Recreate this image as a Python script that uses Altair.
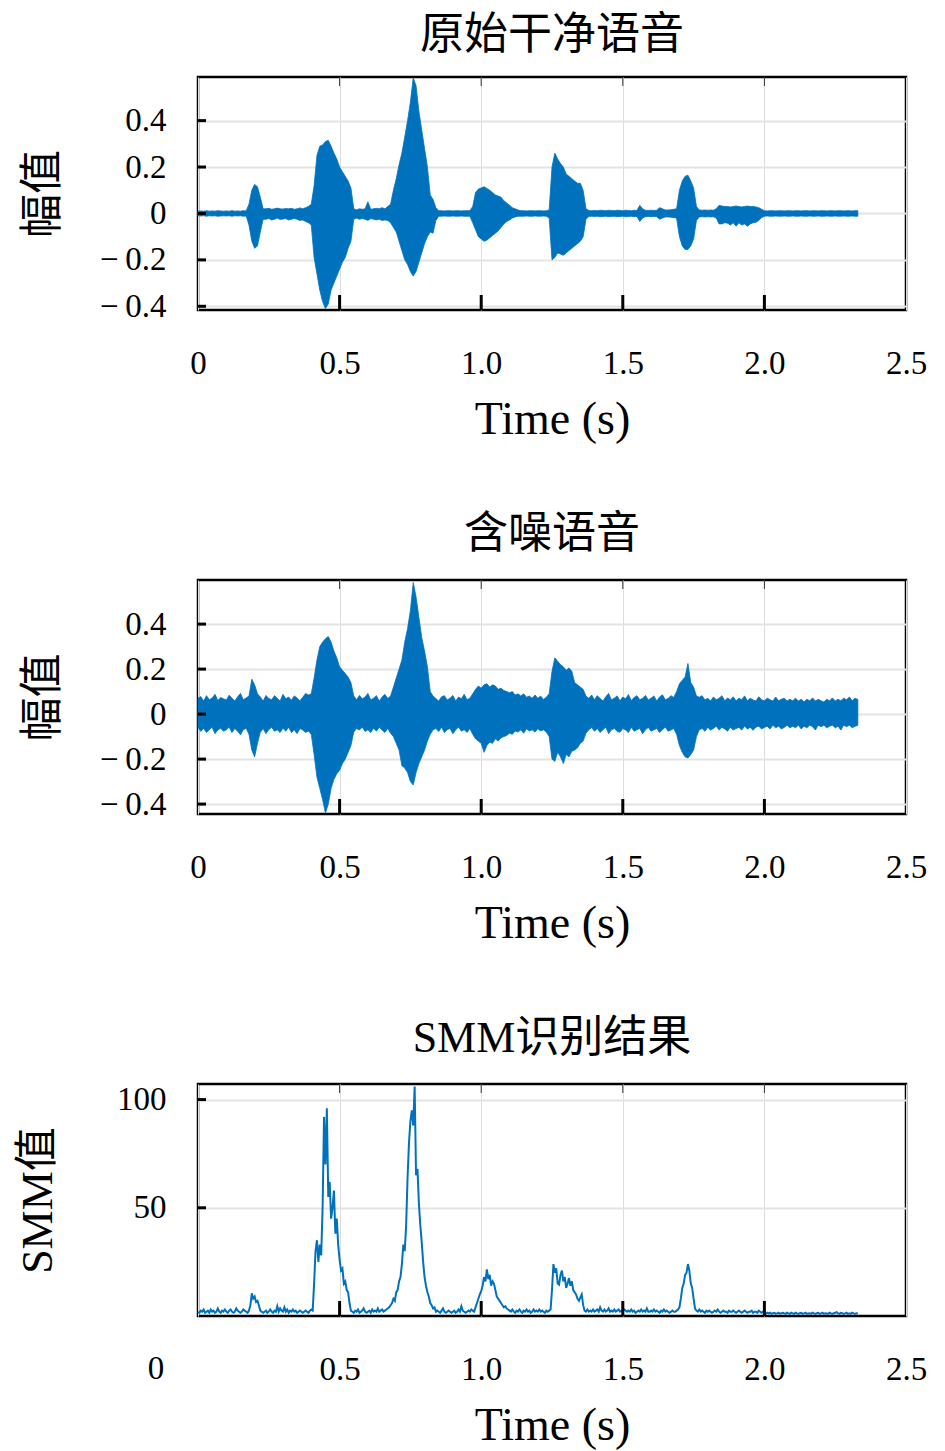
import altair as alt
import pandas as pd

BLUE = "#0072BD"
SERIF = "Liberation Serif"
MIXED = "Liberation Serif, Noto Sans CJK SC"

# ---------------- data ----------------
# Envelope (max / min per 0.01 s) of the clean speech waveform
clean_upper = [
    0.010, 0.011, 0.010, 0.012, 0.010, 0.011, 0.010, 0.012, 0.011, 0.010,
    0.011, 0.010, 0.012, 0.010, 0.011, 0.010, 0.012, 0.011, 0.040, 0.100,
    0.125, 0.115, 0.070, 0.020, 0.020, 0.022, 0.018, 0.020, 0.023, 0.020,
    0.019, 0.021, 0.020, 0.022, 0.018, 0.020, 0.024, 0.020, 0.025, 0.030,
    0.040, 0.120, 0.250, 0.290, 0.295, 0.310, 0.315, 0.290, 0.260, 0.235,
    0.200, 0.180, 0.160, 0.140, 0.110, 0.020, 0.015, 0.020, 0.018, 0.020,
    0.050, 0.018, 0.020, 0.022, 0.020, 0.025, 0.020, 0.030, 0.040, 0.100,
    0.150, 0.210, 0.260, 0.330, 0.400, 0.480, 0.585, 0.550, 0.440, 0.360,
    0.280, 0.200, 0.080, 0.060, 0.025, 0.012, 0.012, 0.011, 0.012, 0.012,
    0.011, 0.012, 0.012, 0.011, 0.012, 0.012, 0.012, 0.030, 0.090, 0.105,
    0.110, 0.115, 0.108, 0.100, 0.090, 0.080, 0.075, 0.070, 0.055, 0.045,
    0.035, 0.025, 0.020, 0.015, 0.012, 0.012, 0.011, 0.012, 0.012, 0.011,
    0.012, 0.012, 0.011, 0.012, 0.015, 0.200, 0.260, 0.235, 0.215, 0.200,
    0.170, 0.160, 0.150, 0.140, 0.130, 0.130, 0.100, 0.020, 0.013, 0.012,
    0.013, 0.012, 0.014, 0.013, 0.012, 0.014, 0.013, 0.012, 0.014, 0.013,
    0.012, 0.014, 0.013, 0.012, 0.014, 0.013, 0.035, 0.020, 0.014, 0.013,
    0.014, 0.013, 0.014, 0.025, 0.020, 0.015, 0.015, 0.016, 0.018, 0.020,
    0.100, 0.140, 0.160, 0.165, 0.140, 0.110, 0.030, 0.015, 0.014, 0.015,
    0.014, 0.015, 0.014, 0.020, 0.035, 0.032, 0.030, 0.030, 0.028, 0.030,
    0.032, 0.030, 0.028, 0.030, 0.032, 0.030, 0.030, 0.028, 0.025, 0.018,
    0.012, 0.011, 0.012, 0.012, 0.011, 0.012, 0.012, 0.011, 0.012, 0.012,
    0.011, 0.012, 0.012, 0.011, 0.012, 0.012, 0.011, 0.012, 0.012, 0.011,
    0.012, 0.012, 0.011, 0.012, 0.012, 0.011, 0.012, 0.012, 0.011, 0.012,
    0.012, 0.011, 0.012, 0.012,
]
clean_lower = [
    -0.010, -0.011, -0.010, -0.012, -0.010, -0.011, -0.010, -0.012, -0.011, -0.010,
    -0.011, -0.010, -0.012, -0.010, -0.011, -0.010, -0.012, -0.011, -0.050, -0.120,
    -0.150, -0.140, -0.080, -0.025, -0.025, -0.022, -0.028, -0.025, -0.020, -0.026,
    -0.024, -0.022, -0.028, -0.025, -0.022, -0.025, -0.030, -0.028, -0.035, -0.040,
    -0.050, -0.190, -0.260, -0.330, -0.380, -0.410, -0.390, -0.330, -0.300, -0.270,
    -0.240, -0.210, -0.190, -0.150, -0.120, -0.025, -0.020, -0.025, -0.022, -0.025,
    -0.030, -0.022, -0.025, -0.028, -0.025, -0.030, -0.028, -0.030, -0.040, -0.060,
    -0.080, -0.120, -0.160, -0.200, -0.220, -0.250, -0.270, -0.250, -0.210, -0.170,
    -0.130, -0.100, -0.080, -0.085, -0.030, -0.012, -0.012, -0.011, -0.012, -0.012,
    -0.011, -0.012, -0.012, -0.011, -0.012, -0.012, -0.012, -0.040, -0.070, -0.100,
    -0.110, -0.120, -0.115, -0.105, -0.095, -0.085, -0.075, -0.060, -0.045, -0.035,
    -0.028, -0.020, -0.015, -0.012, -0.012, -0.012, -0.011, -0.012, -0.012, -0.011,
    -0.012, -0.012, -0.011, -0.012, -0.020, -0.200, -0.190, -0.170, -0.175, -0.180,
    -0.170, -0.160, -0.150, -0.140, -0.130, -0.120, -0.100, -0.025, -0.013, -0.012,
    -0.013, -0.012, -0.014, -0.013, -0.012, -0.014, -0.013, -0.012, -0.014, -0.013,
    -0.012, -0.014, -0.013, -0.012, -0.014, -0.013, -0.035, -0.020, -0.014, -0.013,
    -0.014, -0.013, -0.014, -0.025, -0.020, -0.015, -0.015, -0.016, -0.018, -0.020,
    -0.100, -0.140, -0.155, -0.155, -0.140, -0.110, -0.030, -0.015, -0.014, -0.015,
    -0.014, -0.015, -0.014, -0.020, -0.045, -0.045, -0.040, -0.042, -0.050, -0.040,
    -0.055, -0.040, -0.050, -0.045, -0.055, -0.045, -0.040, -0.038, -0.030, -0.018,
    -0.012, -0.011, -0.012, -0.012, -0.011, -0.012, -0.012, -0.011, -0.012, -0.012,
    -0.011, -0.012, -0.012, -0.011, -0.012, -0.012, -0.011, -0.012, -0.012, -0.011,
    -0.012, -0.012, -0.011, -0.012, -0.012, -0.011, -0.012, -0.012, -0.011, -0.012,
    -0.012, -0.011, -0.012, -0.012,
]

# Envelope of the noisy speech waveform
noisy_upper = [
    0.070, 0.078, 0.058, 0.082, 0.064, 0.072, 0.088, 0.060, 0.074, 0.068,
    0.063, 0.084, 0.071, 0.058, 0.077, 0.092, 0.064, 0.072, 0.080, 0.155,
    0.130, 0.090, 0.076, 0.058, 0.083, 0.069, 0.064, 0.082, 0.070, 0.058,
    0.088, 0.068, 0.076, 0.062, 0.081, 0.072, 0.059, 0.075, 0.092, 0.085,
    0.090, 0.160, 0.240, 0.300, 0.320, 0.335, 0.345, 0.320, 0.280, 0.250,
    0.210, 0.195, 0.180, 0.165, 0.140, 0.080, 0.064, 0.083, 0.068, 0.076,
    0.092, 0.063, 0.071, 0.082, 0.058, 0.076, 0.088, 0.069, 0.080, 0.120,
    0.160, 0.200, 0.240, 0.320, 0.380, 0.460, 0.585, 0.520, 0.430, 0.340,
    0.280, 0.210, 0.100, 0.080, 0.069, 0.058, 0.077, 0.082, 0.063, 0.071,
    0.083, 0.058, 0.076, 0.068, 0.088, 0.064, 0.071, 0.090, 0.110, 0.125,
    0.115, 0.130, 0.135, 0.120, 0.130, 0.125, 0.110, 0.115, 0.105, 0.100,
    0.095, 0.100, 0.085, 0.090, 0.080, 0.090, 0.075, 0.080, 0.070, 0.085,
    0.070, 0.080, 0.065, 0.075, 0.090, 0.190, 0.250, 0.235, 0.220, 0.210,
    0.195, 0.205, 0.190, 0.140, 0.130, 0.120, 0.110, 0.080, 0.070, 0.085,
    0.064, 0.082, 0.069, 0.058, 0.077, 0.092, 0.063, 0.071, 0.081, 0.059,
    0.076, 0.068, 0.087, 0.060, 0.074, 0.082, 0.064, 0.070, 0.083, 0.063,
    0.071, 0.081, 0.058, 0.076, 0.086, 0.064, 0.069, 0.082, 0.074, 0.100,
    0.135, 0.150, 0.165, 0.225, 0.140, 0.120, 0.080, 0.075, 0.082, 0.063,
    0.071, 0.058, 0.076, 0.064, 0.070, 0.082, 0.059, 0.072, 0.063, 0.077,
    0.058, 0.071, 0.064, 0.081, 0.059, 0.070, 0.063, 0.058, 0.077, 0.064,
    0.059, 0.071, 0.064, 0.058, 0.076, 0.059, 0.066, 0.071, 0.058, 0.066,
    0.059, 0.071, 0.058, 0.066, 0.054, 0.066, 0.059, 0.072, 0.058, 0.066,
    0.059, 0.054, 0.066, 0.059, 0.072, 0.058, 0.066, 0.059, 0.071, 0.064,
    0.076, 0.059, 0.071, 0.065,
]
noisy_lower = [
    -0.060, -0.077, -0.064, -0.082, -0.069, -0.058, -0.087, -0.071, -0.063, -0.076,
    -0.070, -0.058, -0.082, -0.064, -0.076, -0.092, -0.069, -0.063, -0.090, -0.160,
    -0.190, -0.130, -0.081, -0.064, -0.087, -0.069, -0.058, -0.076, -0.070, -0.082,
    -0.063, -0.076, -0.058, -0.082, -0.070, -0.087, -0.064, -0.071, -0.082, -0.075,
    -0.090, -0.180, -0.280, -0.330, -0.380, -0.440, -0.400, -0.330, -0.290, -0.265,
    -0.250, -0.220, -0.200, -0.170, -0.140, -0.080, -0.064, -0.071, -0.058, -0.077,
    -0.070, -0.082, -0.063, -0.076, -0.058, -0.071, -0.082, -0.064, -0.085, -0.100,
    -0.130, -0.160, -0.230, -0.240, -0.260, -0.300, -0.315, -0.260, -0.220, -0.190,
    -0.160, -0.120, -0.090, -0.070, -0.064, -0.077, -0.058, -0.082, -0.069, -0.064,
    -0.087, -0.070, -0.058, -0.076, -0.069, -0.082, -0.064, -0.090, -0.110, -0.120,
    -0.130, -0.170, -0.140, -0.125, -0.130, -0.110, -0.120, -0.105, -0.100, -0.095,
    -0.085, -0.090, -0.075, -0.080, -0.070, -0.085, -0.065, -0.075, -0.070, -0.080,
    -0.065, -0.075, -0.070, -0.080, -0.100, -0.200, -0.210, -0.170, -0.190, -0.220,
    -0.180, -0.190, -0.165, -0.160, -0.150, -0.130, -0.120, -0.085, -0.070, -0.060,
    -0.076, -0.064, -0.082, -0.069, -0.058, -0.087, -0.070, -0.064, -0.076, -0.081,
    -0.064, -0.071, -0.082, -0.058, -0.076, -0.069, -0.064, -0.087, -0.070, -0.059,
    -0.076, -0.070, -0.064, -0.082, -0.069, -0.058, -0.076, -0.071, -0.064, -0.090,
    -0.140, -0.170, -0.190, -0.195, -0.180, -0.160, -0.100, -0.070, -0.064, -0.076,
    -0.059, -0.071, -0.064, -0.054, -0.071, -0.059, -0.066, -0.076, -0.058, -0.071,
    -0.064, -0.059, -0.071, -0.054, -0.066, -0.059, -0.072, -0.058, -0.054, -0.066,
    -0.059, -0.054, -0.066, -0.049, -0.061, -0.054, -0.066, -0.059, -0.049, -0.061,
    -0.054, -0.061, -0.049, -0.066, -0.054, -0.061, -0.049, -0.056, -0.071, -0.049,
    -0.056, -0.049, -0.061, -0.054, -0.049, -0.061, -0.054, -0.071, -0.049, -0.056,
    -0.049, -0.061, -0.054, -0.050,
]

# SMM value, one reading every 0.005 s
smm_values = [
    2, 1.5, 2.5, 2, 3, 1.5, 2, 2.5, 1.5, 3, 2, 2.5, 1.5, 2, 3.5, 2, 1.5, 2.5, 2, 3,
    2, 1.5, 2.5, 3, 2, 1.5, 2, 3.5, 2.5, 2, 1.5, 2, 3, 2.5, 2, 1.5, 2.5, 5, 10.5, 8,
    9, 6.5, 7, 5, 2.5, 2, 1.5, 2, 2.5, 1.5, 2, 3, 2, 1.5, 2.5, 2, 4.5, 2, 3.5, 2.5,
    2, 4, 2, 3, 1.5, 2.5, 2, 3, 2, 2.5, 1.5, 2, 2.5, 2, 1.5, 2, 2.5, 2, 1.5, 2.5,
    3, 2.5, 15, 30, 35, 25, 33, 28, 50, 92, 70, 96, 55, 62, 45, 50, 58, 38, 45, 33,
    26, 21, 22, 15, 16, 12, 11, 6, 2.5, 2, 1.5, 2.5, 2, 3, 1.5, 2, 2.5, 3.5, 2, 1.5,
    2, 2.5, 1.5, 3, 2, 2.5, 2, 3.5, 2, 2.5, 3, 2, 2.5, 3, 3.5, 4, 5, 6, 8, 7,
    11, 12, 16, 18, 24, 33, 30, 42, 64, 80, 90, 95, 88, 106, 65, 68, 52, 42, 34, 25,
    18, 14, 11, 9, 6, 5, 3.5, 4, 2, 2.5, 2, 1.5, 2.5, 3.5, 2, 1.5, 2, 2.5, 2, 1.5,
    2, 2.5, 1.5, 2, 3, 2, 4.5, 2.5, 2, 1.5, 2, 2.5, 2, 3, 2.5, 2, 4, 6, 8, 10,
    11.5, 14, 18, 16, 21.5, 17, 19, 14, 16, 15, 12, 9, 8, 7, 6, 5, 4, 4.5, 3.5, 3,
    2.5, 2, 3, 2, 1.5, 2.5, 2, 3, 2, 1.5, 2.5, 2, 3, 2, 2.5, 1.5, 2, 3, 2, 2.5,
    2, 3, 2, 2.5, 2, 1.5, 2.5, 2, 2.5, 3, 12, 24, 20, 22, 15, 14.5, 19, 21, 16, 18,
    13, 15, 17.5, 14, 16, 12, 11, 10, 8, 7, 8.5, 10, 5, 2.5, 2, 3, 2, 2.5, 2, 3,
    2, 2.5, 3, 2, 4, 2.5, 2, 3, 2, 2.5, 3.5, 2, 2.5, 2, 3, 2, 2.5, 3, 2, 2.5,
    2, 3, 2.5, 2, 2.5, 2, 3, 2, 2.5, 1.5, 2, 2.5, 2, 3, 2, 2.5, 2, 3.5, 2, 2,
    2.5, 2, 3, 2, 2.5, 2, 1.5, 2.5, 2, 3, 2, 2.5, 2, 1.5, 2, 2.5, 2, 2, 2.5, 3,
    4, 8, 13, 15, 19, 20, 24, 21, 15, 13, 8, 3.5, 2.5, 2, 3, 2, 2.5, 2, 1.5, 2.5,
    2, 2.5, 2, 1.5, 2, 2.5, 2, 3, 2, 1.5, 2, 2.5, 2, 2, 1.5, 2.5, 2, 2, 2.5, 2,
    1.5, 2, 2.5, 2, 1.5, 2, 2.5, 2, 1.5, 2, 2, 2.5, 1.5, 2, 2, 1.5, 2.5, 2, 1.5, 2,
    1.5, 1, 1.5, 1.2, 1.5, 1, 1.3, 1.5, 1, 1.2, 1.5, 1, 1.3, 1.5, 1.2, 1, 1.5, 1.2, 1, 1.5,
    1.2, 1, 1.5, 1.2, 1, 1.3, 1.5, 1, 1.2, 1.5, 1, 1.2, 1.3, 1, 1.5, 1.2, 1, 1.3, 1.5, 1,
    1.2, 1.5, 1, 1.3, 1.2, 1, 1.5, 1.2, 1, 1.3, 1.5, 1.8, 1.2, 1, 1.5, 1.3, 1, 1.2, 1.5, 1,
    1.2, 1, 1.5, 1.2, 1, 1.3, 1.2,
]

env_step = 0.01   # s between envelope readings
smm_step = 0.005  # s between SMM readings

x_tick_values = [0, 0.5, 1.0, 1.5, 2.0, 2.5]
x_inner_ticks = [0.5, 1.0, 1.5, 2.0]
amp_ticks = [-0.4, -0.2, 0, 0.2, 0.4]
smm_ticks = [50, 100]

titles = ["原始干净语音", "含噪语音", "SMM识别结果"]
amp_label = "幅值"
smm_label = "SMM值"
time_label = "Time (s)"
zero_label_t = [-0.148]   # the stray "0" tick label of the last panel

W = 708
LABEL_SIZE = 33
X_SCALE = alt.Scale(domain=[0, 2.5], nice=False, zero=False)


def x_axis(hide_zero=False):
    expr0 = "''" if hide_zero else "'0'"
    return alt.Axis(
        values=x_tick_values,
        labelExpr=f"datum.value == 0 ? {expr0} : format(datum.value, '.1f')",
        labelFlush=False,
        labelBaseline="alphabetic",
        labelPadding=63,
        title=time_label,
        titleFont=SERIF,
        titleFontSize=46,
        titleY=123,
        titleBaseline="alphabetic",
        grid=True,
        gridColor="#dddddd",
        gridWidth=1,
    )


def y_axis(values, label, fmt, title_x):
    return alt.Axis(
        values=values,
        labelExpr=(
            "datum.value == 0 ? '0' : (datum.value < 0 ? '\u2212\u2009' + "
            f"format(-datum.value, '{fmt}') : format(datum.value, '{fmt}'))"
        ),
        labelPadding=32,
        title=label,
        titleFont=MIXED,
        titleFontSize=44,
        titleX=title_x,
        titleBaseline="middle",
        grid=True,
        gridColor="#e3e3e3",
        gridWidth=2,
    )


def extra_layers(title, y_scale, y_ticks, H, xa, ya, yfield, title_y):
    xt = pd.DataFrame({"t": x_inner_ticks})
    bottom = alt.Chart(xt).mark_rule(color="black", strokeWidth=3).encode(
        x=alt.X("t:Q", scale=X_SCALE, axis=xa),
        y=alt.value(H), y2=alt.value(H - 15))
    top = alt.Chart(xt).mark_rule(color="#333333", strokeWidth=1).encode(
        x=alt.X("t:Q", scale=X_SCALE, axis=xa),
        y=alt.value(0), y2=alt.value(9))
    left = alt.Chart(pd.DataFrame({yfield: y_ticks})).mark_rule(
        color="black", strokeWidth=3).encode(
        y=alt.Y(f"{yfield}:Q", scale=y_scale, axis=ya),
        x=alt.value(0), x2=alt.value(8))
    head = alt.Chart(pd.DataFrame({"title": [title]})).mark_text(
        font=MIXED, fontSize=44, baseline="alphabetic", align="center",
        color="black").encode(
        x=alt.value(W / 2), y=alt.value(title_y), text="title:N")
    return [bottom, top, left, head]


def wave_panel(upper, lower, ydom, title, H, title_y, top_room=None):
    n = min(len(upper), len(lower))
    df = pd.DataFrame({
        "t": [round(i * env_step, 3) for i in range(n)],
        "hi": upper[:n],
        "lo": lower[:n],
    })
    ys = alt.Scale(domain=ydom, nice=False, zero=False)
    xa = x_axis()
    ya = y_axis(amp_ticks, amp_label, ".1f", -155)
    area = alt.Chart(df).mark_area(
        color=BLUE, stroke=BLUE, strokeWidth=0.8, opacity=1).encode(
        x=alt.X("t:Q", scale=X_SCALE, axis=xa),
        y=alt.Y("hi:Q", scale=ys, axis=ya),
        y2="lo:Q",
    )
    layers = [area, *extra_layers(title, ys, amp_ticks, H, xa, ya, "hi", title_y)]
    if top_room is not None:
        # invisible marker that reserves room above the title glyphs
        layers.append(alt.Chart(pd.DataFrame({"k": [0]})).mark_rule(
            strokeOpacity=0, opacity=0).encode(
            x=alt.value(W / 2 - 1), x2=alt.value(W / 2 + 1),
            y=alt.value(top_room)))
    return alt.layer(*layers).properties(width=W, height=H)


p1 = wave_panel(clean_upper, clean_lower, [-0.416, 0.588], titles[0], 233, -28, -67)
p2 = wave_panel(noisy_upper, noisy_lower, [-0.444, 0.596], titles[1], 234, -32)

H3 = 232
smm_df = pd.DataFrame({
    "t": [round(i * smm_step, 4) for i in range(len(smm_values))],
    "smm": smm_values,
})
ys3 = alt.Scale(domain=[0, 107.2], nice=False, zero=False)
xa3 = x_axis(hide_zero=True)
ya3 = y_axis(smm_ticks, smm_label, "d", -160)
line = alt.Chart(smm_df).mark_line(color=BLUE, strokeWidth=2).encode(
    x=alt.X("t:Q", scale=X_SCALE, axis=xa3),
    y=alt.Y("smm:Q", scale=ys3, axis=ya3),
)
zero_txt = alt.Chart(pd.DataFrame({"t": zero_label_t, "s": ["0"]})).mark_text(
    font=SERIF, fontSize=LABEL_SIZE, baseline="alphabetic", align="center",
    color="black", dy=63).encode(
    x=alt.X("t:Q", scale=X_SCALE, axis=xa3),
    y=alt.value(H3),
    text="s:N",
)
p3 = alt.layer(line, zero_txt,
               *extra_layers(titles[2], ys3, smm_ticks, H3, xa3, ya3, "smm", -32)).properties(
    width=W, height=H3)

chart = alt.vconcat(p1, p2, p3, spacing=270, bounds="flush").properties(
    padding={"left": 6, "top": 0, "right": 5, "bottom": 0},
).configure_view(
    stroke="black", strokeWidth=2.5,
).configure_axis(
    labelFont=SERIF, labelFontSize=LABEL_SIZE, labelColor="black",
    titleColor="black", titleFontWeight="normal",
    domain=False, ticks=False, tickSize=0,
)

chart.save("out.html", embed_options={"renderer": "svg", "actions": False})
